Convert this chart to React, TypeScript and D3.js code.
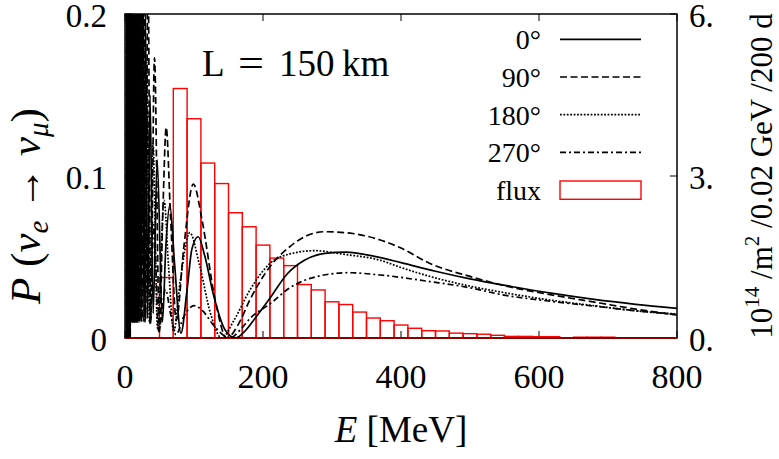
import React from 'react';
import * as d3 from 'd3';

// oscillation probability P(nu_e -> nu_mu) at L = 150 km
// [E (MeV), P]
const curve0: [number, number][] = [
  [2, 0], [2.5, 0.3], [3, 0], [3.5, 0.3], [4, 0], [4.5, 0.3], [5, 0], [5.5, 0.3], [6, 0], [6.6, 0.3],
  [7.2, 0], [7.8, 0.3], [8.4, 0.01], [9.1, 0.3], [9.8, 0.01], [10.5, 0.3], [11.2, 0.01], [12.1, 0.3],
  [12.9, 0.01], [13.8, 0.3], [14.9, 0.01], [15.8, 0.3], [16.9, 0.01], [18.2, 0.3], [19.5, 0.01],
  [21, 0.28], [23.2, 0.01], [25.2, 0.26], [27.3, 0.01], [29.7, 0.2], [32.7, 0.012], [36.3, 0.15],
  [40.8, 0.015], [46.6, 0.11], [54.3, 0.01], [59, 0.055], [65, 0.082], [72, 0.045], [81, 0.003],
  [90, 0.03], [97, 0.055], [106, 0.0625], [116, 0.05], [128, 0.027], [145, 0.005], [160, 0],
  [175, 0.0048], [190, 0.013], [210, 0.0245], [235, 0.0395], [260, 0.048], [290, 0.0522],
  [320, 0.053], [360, 0.0505], [400, 0.0465], [450, 0.0412], [500, 0.0365], [560, 0.0318],
  [620, 0.0275], [680, 0.0238], [740, 0.0208], [800, 0.0183],
];

const curve90: [number, number][] = [
  [2.2, 0], [2.7, 0.3], [3.2, 0], [3.7, 0.3], [4.2, 0], [4.8, 0.3], [5.3, 0], [5.9, 0.3], [6.4, 0],
  [7, 0.3], [7.6, 0], [8.2, 0.3], [8.9, 0.01], [9.6, 0.3], [10, 0.01], [10.3, 0.3], [10.7, 0.01],
  [11.1, 0.3], [11.5, 0.01], [12, 0.3], [12.5, 0.01], [13, 0.3], [13.6, 0.01], [14.3, 0.3], [15, 0.01],
  [15.8, 0.3], [16.7, 0.01], [17.6, 0.3], [18.7, 0.01], [19.9, 0.3], [21.4, 0.012], [23, 0.3],
  [24.9, 0.012], [27.2, 0.28], [29.9, 0.012], [33.2, 0.23], [37.4, 0.01], [42.7, 0.173], [49.8, 0.004],
  [55, 0.08], [59.7, 0.13], [66, 0.075], [74.4, 0.011], [85, 0.055], [99, 0.095], [112, 0.072],
  [130, 0.025], [147.6, 0], [165, 0.009], [181, 0.0235], [210, 0.044], [239, 0.0564], [260, 0.0625],
  [290, 0.0656], [330, 0.0645], [370, 0.0605], [400, 0.0555], [442, 0.046], [500, 0.038],
  [543, 0.033], [620, 0.0265], [688, 0.0216], [740, 0.0178], [800, 0.0142],
];

const curve180: [number, number][] = [
  [2, 0.3], [2.5, 0], [3, 0.3], [3.5, 0], [4, 0.3], [4.6, 0], [5.1, 0.3], [5.7, 0], [6.2, 0.3], [6.8, 0],
  [7.4, 0.3], [8, 0.01], [8.7, 0.3], [9.3, 0.01], [10, 0.3], [10.6, 0.01], [11.2, 0.3], [11.9, 0.01],
  [12.4, 0.3], [12.9, 0.01], [13.5, 0.3], [14.2, 0.01], [15, 0.3], [15.8, 0.01], [16.8, 0.3],
  [17.8, 0.01], [19, 0.3], [20.3, 0.01], [21.9, 0.3], [23.7, 0.012], [25.9, 0.24], [28.4, 0.012],
  [31.6, 0.17], [35.5, 0.01], [40.5, 0.12], [47.2, 0.006], [56.6, 0.085], [63, 0.045], [70.6, 0.004],
  [80, 0.035], [93.9, 0.065], [108, 0.045], [124, 0.015], [140, 0], [158, 0.011], [181, 0.0296],
  [210, 0.046], [239, 0.0519], [275, 0.0539], [320, 0.0515], [370, 0.048], [400, 0.0435],
  [442, 0.038], [500, 0.032], [543, 0.0285], [620, 0.0232], [688, 0.0195], [740, 0.0168],
  [800, 0.0148],
];

const curve270: [number, number][] = [
  [2.1, 0.3], [2.6, 0], [3.1, 0.3], [3.6, 0], [4.1, 0.3], [4.7, 0], [5.2, 0.3], [5.8, 0], [6.3, 0.3],
  [6.9, 0], [7.5, 0.3], [8.1, 0.01], [8.8, 0.3], [9.5, 0.01], [10.2, 0.3], [10.9, 0.01], [11.6, 0.3],
  [12.3, 0.01], [13.2, 0.3], [14.4, 0.01], [15.2, 0.3], [16, 0.01], [17, 0.3], [18.1, 0.01],
  [19.3, 0.3], [20.7, 0.01], [22.3, 0.3], [24.1, 0.01], [26.4, 0.22], [29, 0.01], [32.3, 0.14],
  [36.4, 0.008], [41.7, 0.07], [48.8, 0.004], [58.7, 0.03], [66, 0.015], [73.8, 0.002], [85, 0.013],
  [100, 0.02], [112, 0.017], [130, 0.007], [152, 0], [167, 0.005], [181, 0.012], [210, 0.021],
  [239, 0.031], [270, 0.037], [323, 0.0403], [370, 0.0389], [442, 0.0348], [500, 0.031],
  [543, 0.027], [620, 0.0225], [688, 0.0193], [740, 0.0168], [800, 0.0145],
];

// flux histogram, 20 MeV bins (lower edge), in 10^14 /m^2 /0.02 GeV /200 d
const fluxBinLow = [
  50, 70, 90, 110, 130, 150, 170, 190, 210, 230, 250, 270, 290, 310, 330, 350, 370, 390, 410, 430,
  450, 470, 490, 510, 530, 550, 570, 590, 610, 630, 650, 670, 690,
];
const fluxValues = [
  1.12, 4.62, 4.06, 3.24, 2.86, 2.32, 2.06, 1.72, 1.48, 1.34, 0.99, 0.89, 0.67, 0.62, 0.48, 0.37,
  0.32, 0.24, 0.18, 0.135, 0.13, 0.09, 0.08, 0.07, 0.05, 0.03, 0.03, 0.025, 0.025, 0, 0.015, 0.015,
  0.015,
];
const FLUX_BIN_WIDTH = 20;

const eTicks = [0, 200, 400, 600, 800];
const pTicks = [0, 0.1, 0.2];
const pTickLabels = ['0', '0.1', '0.2'];
const fluxTicks = [0, 3, 6];
const fluxTickLabels = ['0.', '3.', '6.'];

const legendLabels = ['0°', '90°', '180°', '270°'];

const W = 779;
const H = 459;
const margin = { top: 14, right: 102, bottom: 121, left: 125 };
const FONT = 'Liberation Serif, DejaVu Serif, serif';

const series = [
  { data: curve0, dash: undefined as string | undefined },
  { data: curve90, dash: '7,3.5' },
  { data: curve180, dash: '1.8,1.6' },
  { data: curve270, dash: '6,3,2,3' },
];

export default function App() {
  const x0 = margin.left;
  const x1 = W - margin.right;
  const y0 = H - margin.bottom;
  const y1 = margin.top;

  const x = d3.scaleLinear().domain([0, 800]).range([x0, x1]);
  const yP = d3.scaleLinear().domain([0, 0.2]).range([y0, y1]);
  const yF = d3.scaleLinear().domain([0, 6]).range([y0, y1]);

  const line = d3
    .line<[number, number]>()
    .x(d => x(d[0]))
    .y(d => yP(d[1]))
    .curve(d3.curveMonotoneX);

  const tick = 7;
  const legendX = 541;
  const legendLine = [560, 641];
  const legendRows = [39.3, 77, 114.7, 152.3, 190];
  const txt = { fontFamily: FONT, fill: '#000' };

  return (
    <div style={{ position: 'fixed', left: 0, top: 0, width: W, height: H, background: '#fff', overflow: 'hidden' }}>
      <svg width={W} height={H} viewBox={`0 0 ${W} ${H}`} style={{ display: 'block', fontFamily: FONT }}>
        <defs>
          <clipPath id="plotClip">
            <rect x={x0} y={y1} width={x1 - x0} height={y0 - y1} />
          </clipPath>
        </defs>

        {/* frame */}
        <rect x={x0} y={y1} width={x1 - x0} height={y0 - y1} fill="none" stroke="#000" strokeWidth={1.5} />

        {/* ticks */}
        {eTicks.map(t => (
          <g key={`e${t}`}>
            <line x1={x(t)} x2={x(t)} y1={y0} y2={y0 - tick} stroke="#000" strokeWidth={1} />
            <line x1={x(t)} x2={x(t)} y1={y1} y2={y1 + tick} stroke="#000" strokeWidth={1} />
            <text x={x(t)} y={y0 + 50} textAnchor="middle" fontSize={34} style={txt}>
              {t}
            </text>
          </g>
        ))}
        {pTicks.map((t, i) => (
          <g key={`p${t}`}>
            <line x1={x0} x2={x0 + tick} y1={yP(t)} y2={yP(t)} stroke="#000" strokeWidth={1} />
            <text x={x0 - 18} y={yP(t) + 12.5} textAnchor="end" fontSize={33} style={txt}>
              {pTickLabels[i]}
            </text>
          </g>
        ))}
        {fluxTicks.map((t, i) => (
          <g key={`f${t}`}>
            <line x1={x1} x2={x1 - tick} y1={yF(t)} y2={yF(t)} stroke="#000" strokeWidth={1} />
            <text x={x1 + 12} y={yF(t) + 12.5} textAnchor="start" fontSize={33} style={txt}>
              {fluxTickLabels[i]}
            </text>
          </g>
        ))}

        {/* flux histogram */}
        <g clipPath="url(#plotClip)">
          {fluxBinLow.map((lo, i) =>
            fluxValues[i] > 0 ? (
              <rect
                key={lo}
                x={x(lo)}
                y={yF(fluxValues[i])}
                width={x(lo + FLUX_BIN_WIDTH) - x(lo)}
                height={yF(0) - yF(fluxValues[i])}
                fill="none"
                stroke="#ff0000"
                strokeWidth={1.4}
              />
            ) : null
          )}
        </g>
        <line x1={x0} x2={x1} y1={y0} y2={y0} stroke="#8a0000" strokeWidth={1.8} />

        {/* probability curves */}
        <g clipPath="url(#plotClip)">
          {series.map((s, i) => (
            <path
              key={i}
              d={line(s.data) || ''}
              fill="none"
              stroke="#000"
              strokeWidth={1.7}
              strokeDasharray={s.dash}
              strokeLinejoin="round"
            />
          ))}
        </g>

        {/* L label */}
        <g style={txt} fontSize={37}>
          <text x={202} y={76}>L</text>
          <text x={238} y={76} textLength={26} lengthAdjust="spacingAndGlyphs">=</text>
          <text x={279} y={76}>150</text>
          <text x={342} y={76}>km</text>
        </g>

        {/* legend */}
        {legendLabels.map((lab, i) => (
          <g key={lab}>
            <text x={legendX} y={legendRows[i] + 10} textAnchor="end" fontSize={28} style={txt}>
              {lab}
            </text>
            <line
              x1={legendLine[0]}
              x2={legendLine[1]}
              y1={legendRows[i]}
              y2={legendRows[i]}
              stroke="#000"
              strokeWidth={1.7}
              strokeDasharray={series[i].dash}
            />
          </g>
        ))}
        <text x={legendX} y={legendRows[4] + 10} textAnchor="end" fontSize={28} style={txt}>
          flux
        </text>
        <rect
          x={legendLine[0]}
          y={181}
          width={legendLine[1] - legendLine[0]}
          height={18.3}
          fill="none"
          stroke="#ff0000"
          strokeWidth={1.4}
        />

        {/* x axis title */}
        <text x={(x0 + x1) / 2} y={442} textAnchor="middle" fontSize={37} style={txt}>
          <tspan fontStyle="italic">E</tspan> [MeV]
        </text>

        {/* left axis title */}
        <text transform="translate(40,206) rotate(-90)" textAnchor="middle" fontSize={43} style={txt}>
          <tspan fontStyle="italic">P</tspan>
          <tspan> (</tspan>
          <tspan fontStyle="italic">ν</tspan>
          <tspan fontStyle="italic" fontSize={29} dy={8}>e</tspan>
          <tspan dy={-8}> → </tspan>
          <tspan fontStyle="italic">ν</tspan>
          <tspan fontStyle="italic" fontSize={29} dy={8}>μ</tspan>
          <tspan dy={-8}>)</tspan>
        </text>

        {/* right axis title */}
        <text transform="translate(772,176) rotate(-90)" textAnchor="middle" fontSize={31} style={txt}>
          <tspan>10</tspan>
          <tspan fontSize={21} dy={-13}>14</tspan>
          <tspan dy={13}> /m</tspan>
          <tspan fontSize={21} dy={-13}>2</tspan>
          <tspan dy={13}> /0.02 GeV /200 d</tspan>
        </text>
      </svg>
    </div>
  );
}
